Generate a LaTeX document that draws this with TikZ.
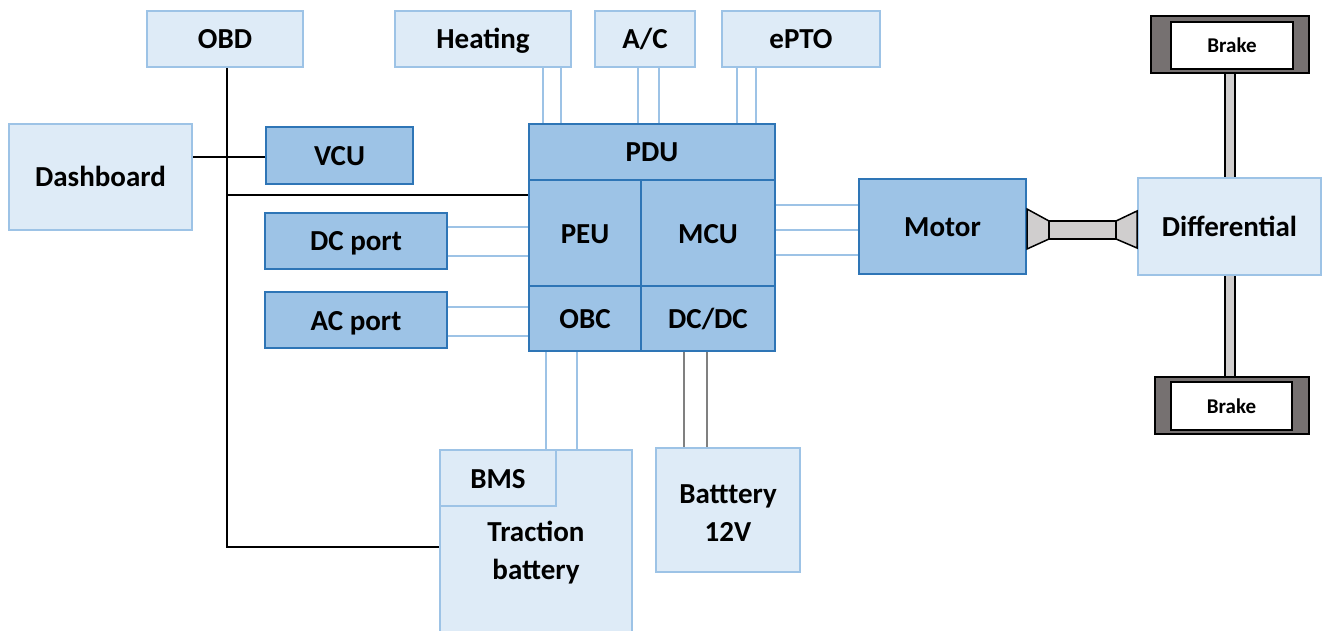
\documentclass[tikz,border=0pt]{standalone}
\usepackage{fontspec}
\setmainfont{Carlito}
\definecolor{lfill}{HTML}{DEEBF7}
\definecolor{lborder}{HTML}{9DC3E6}
\definecolor{dfill}{HTML}{9DC3E6}
\definecolor{dborder}{HTML}{2E75B6}
\definecolor{shaft}{HTML}{D0CECE}
\definecolor{brk}{HTML}{767171}
\definecolor{gline}{HTML}{808080}
\tikzset{
  box/.style={rectangle, inner sep=0pt, line width=2pt, font=\bfseries\fontsize{29}{38}\selectfont, align=center, text height=24, text depth=4},
  mtext/.style={rectangle, inner sep=0pt, font=\bfseries\fontsize{29}{38}\selectfont, align=center},
  lbox/.style={box, draw=lborder, fill=lfill},
  dbox/.style={box, draw=dborder, fill=dfill},
  bout/.style={rectangle, inner sep=0pt, draw=black, fill=brk, line width=1.5pt},
  bin/.style={rectangle, inner sep=0pt, draw=black, fill=white, line width=1.5pt, font=\bfseries\fontsize{21}{24}\selectfont, text height=17, text depth=2},
  bline/.style={draw=lborder, line width=2.5pt},
  kline/.style={draw=black, line width=2pt},
  gwire/.style={draw=gline, line width=2.5pt},
  mech/.style={draw=black, fill=shaft, line width=1.5pt, line join=miter},
}
\begin{document}
\begin{tikzpicture}[x=1pt,y=-1pt]
\useasboundingbox (0,0) rectangle (1322,631);
\clip (0,0) rectangle (1322,631);
% axle behind
\draw[mech] (1225,70) rectangle (1235,380);
% top boxes
\node[lbox, minimum width=156, minimum height=56] (obd) at (225,39) {OBD};
\node[lbox, minimum width=176, minimum height=56] (heat) at (483,39) {Heating};
\node[lbox, minimum width=100, minimum height=56] (ac) at (645,39) {A/C};
\node[lbox, minimum width=158, minimum height=56] (epto) at (801,39) {ePTO};
% left
\node[lbox, minimum width=183, minimum height=106] (dash) at (100.5,177) {Dashboard};
\node[dbox, minimum width=147, minimum height=57] (vcu) at (339.5,155.5) {VCU};
\node[dbox, minimum width=182, minimum height=56] (dcp) at (356,241) {DC port};
\node[dbox, minimum width=182, minimum height=56] (acp) at (356,320) {AC port};
% PDU block
\node[dbox, minimum width=246, minimum height=56] (pdu) at (652,152) {PDU};
\node[dbox, minimum width=112, minimum height=106] (peu) at (585,233) {PEU};
\node[dbox, minimum width=134, minimum height=106] (mcu) at (708,233) {MCU};
\node[dbox, minimum width=112, minimum height=65] (obc) at (585,318.5) {OBC};
\node[dbox, minimum width=134, minimum height=65] (dcdc) at (708,318.5) {DC/DC};
% motor, differential
\node[dbox, minimum width=167, minimum height=95] (motor) at (942.5,226.5) {Motor};
\node[lbox, minimum width=183, minimum height=97] (diff) at (1229.5,226.5) {Differential};
% brakes
\node[bout, minimum width=158, minimum height=57] (bt) at (1230,44.5) {};
\node[bin, minimum width=122, minimum height=47] (bti) at (1232,45.5) {Brake};
\node[bout, minimum width=154, minimum height=57] (bb) at (1232,405.5) {};
\node[bin, minimum width=121, minimum height=48] (bbi) at (1231.5,406) {Brake};
% batteries
\node[lbox, minimum width=192, minimum height=200] (tb) at (536,550) {};
\node[mtext] (tbt) at (536,553) {Traction\\battery};
\node[lbox, minimum width=116, minimum height=56] (bms) at (498,478) {BMS};
\node[lbox, minimum width=144, minimum height=124] (b12) at (728,510) {};
\node[mtext] (b12t) at (728,513) {Batttery\\12V};
% shaft
\draw[mech] (motor.east |- 0,209) -- (1049,221) -- (1049,239) -- (motor.east |- 0,249) -- cycle;
\draw[mech] (1049,221) rectangle (1116,239);
\draw[mech] (diff.west |- 0,211) -- (1116,221) -- (1116,239) -- (diff.west |- 0,248) -- cycle;
% blue double wires
\foreach \x in {543,561}{\draw[bline] (\x,0 |- heat.south) -- (\x,0 |- pdu.north);}
\foreach \x in {638,659}{\draw[bline] (\x,0 |- ac.south) -- (\x,0 |- pdu.north);}
\foreach \x in {737,756}{\draw[bline] (\x,0 |- epto.south) -- (\x,0 |- pdu.north);}
\foreach \y in {227,256}{\draw[bline] (dcp.east |- 0,\y) -- (peu.west |- 0,\y);}
\foreach \y in {307,336}{\draw[bline] (acp.east |- 0,\y) -- (obc.west |- 0,\y);}
\foreach \y in {205,230,255}{\draw[bline] (mcu.east |- 0,\y) -- (motor.west |- 0,\y);}
\foreach \x in {546,577}{\draw[bline] (\x,0 |- obc.south) -- (\x,0 |- tb.north);}
\foreach \x in {684,707}{\draw[gwire] (\x,0 |- dcdc.south) -- (\x,0 |- b12.north);}
% black bus
\draw[kline] (227,0 |- obd.south) -- (227,547) -- (tb.west |- 0,547);
\draw[kline] (dash.east |- 0,157) -- (vcu.west |- 0,157);
\draw[kline] (227,195) -- (peu.west |- 0,195);
\end{tikzpicture}
\end{document}
